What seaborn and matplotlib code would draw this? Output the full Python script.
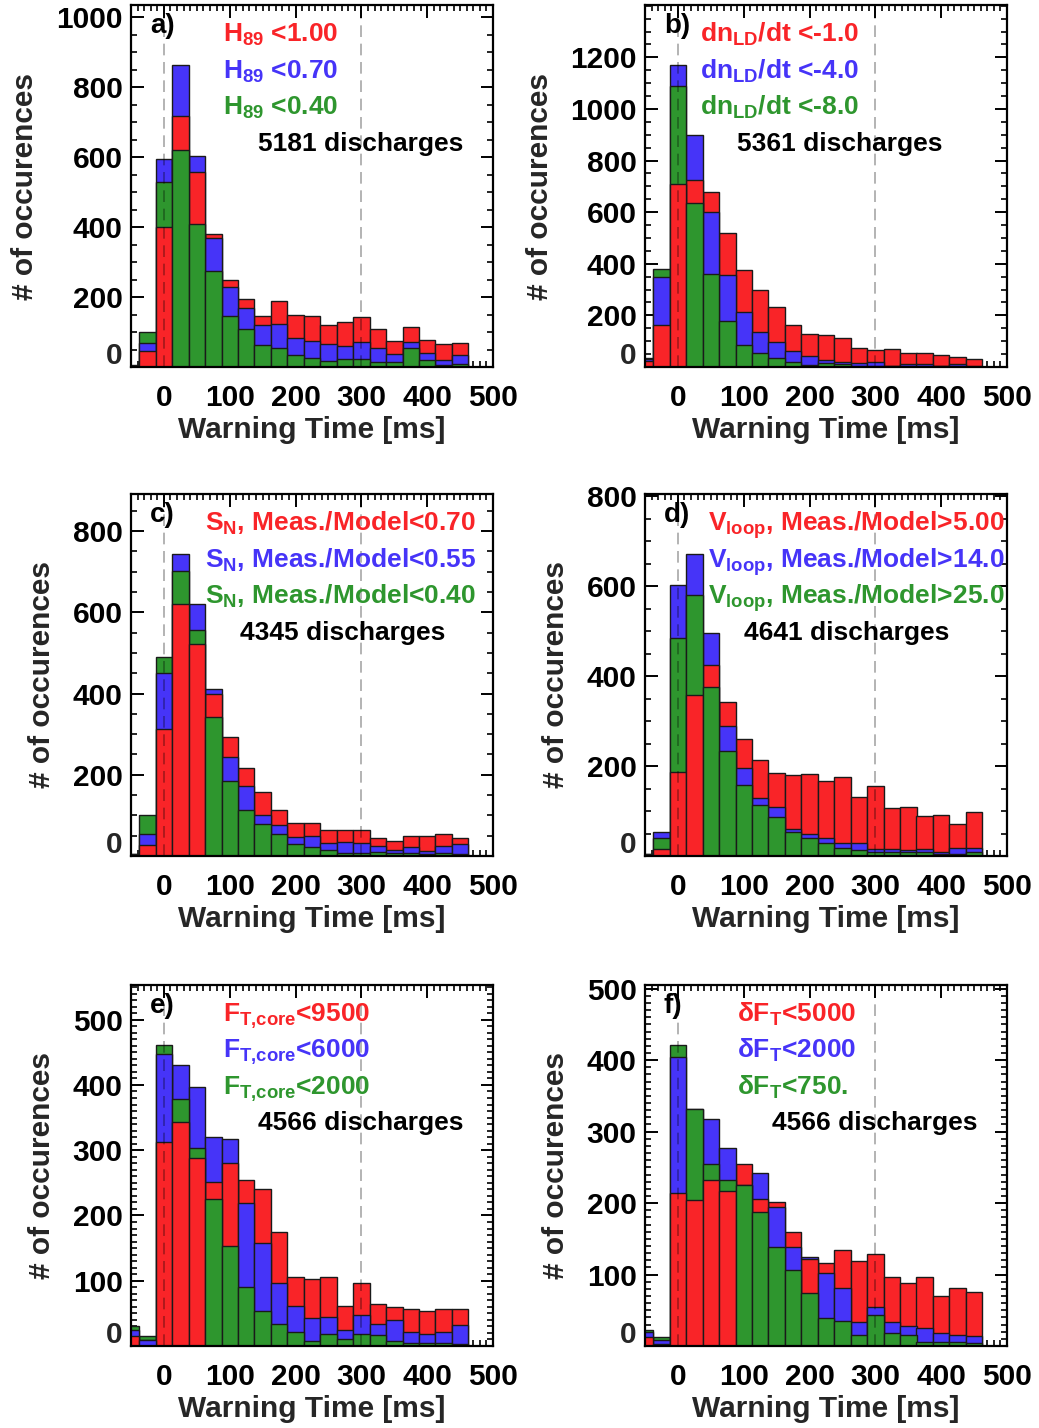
import numpy as np
import pandas as pd
import matplotlib
matplotlib.use("Agg")
import matplotlib.pyplot as plt
import seaborn as sns
from matplotlib.ticker import MultipleLocator, FixedLocator, FuncFormatter

sns.set_theme(style="ticks")
plt.rcParams['font.family'] = ['Liberation Sans', 'DejaVu Sans']
plt.rcParams['font.weight'] = 'bold'
plt.rcParams['mathtext.fontset'] = 'custom'
plt.rcParams['mathtext.rm'] = 'Liberation Sans:bold'
plt.rcParams['mathtext.it'] = 'Liberation Sans:bold'
plt.rcParams['mathtext.bf'] = 'Liberation Sans:bold'
plt.rcParams['mathtext.default'] = 'bf'

# ---------------- data ----------------
t_bins = [-50, -25, 0, 25, 50, 75, 100, 125, 150, 175, 200,
          225, 250, 275, 300, 325, 350, 375, 400, 425, 450]

red_a = [3, 47, 399, 716, 558, 380, 249, 194, 145, 188, 148, 147, 121, 130, 142, 108, 73, 114, 77, 65, 68]
blue_a = [4, 68, 593, 862, 604, 370, 228, 168, 121, 123, 84, 75, 67, 60, 71, 53, 37, 71, 39, 19, 33]
green_a = [5, 99, 529, 621, 410, 274, 146, 109, 63, 55, 33, 26, 17, 23, 22, 13, 15, 55, 20, 6, 9]

red_b = [22, 164, 710, 726, 680, 519, 376, 299, 233, 161, 128, 124, 114, 73, 65, 69, 56, 53, 48, 39, 32]
blue_b = [30, 347, 1169, 900, 600, 357, 213, 136, 96, 61, 42, 28, 19, 16, 19, 3, 10, 12, 4, 12, 3]
green_b = [33, 380, 1089, 635, 362, 177, 86, 55, 34, 20, 7, 15, 10, 5, 5, 2, 3, 3, 2, 2, 1]

red_c = [3, 26, 313, 621, 522, 400, 292, 216, 157, 114, 81, 81, 63, 63, 65, 44, 36, 49, 49, 54, 44]
blue_c = [4, 53, 451, 743, 621, 411, 245, 172, 100, 76, 46, 50, 31, 35, 33, 25, 16, 21, 13, 24, 30]
green_c = [5, 100, 489, 702, 556, 342, 184, 114, 80, 54, 29, 23, 15, 7, 7, 11, 7, 7, 5, 7, 5]

red_d = [3, 16, 186, 359, 425, 343, 261, 214, 185, 181, 182, 167, 176, 131, 155, 107, 109, 90, 91, 71, 97]
blue_d = [4, 53, 602, 671, 496, 290, 195, 129, 108, 59, 49, 39, 28, 28, 16, 16, 14, 16, 8, 17, 17]
green_d = [5, 39, 485, 581, 376, 233, 159, 113, 86, 53, 41, 28, 17, 13, 8, 8, 8, 8, 5, 5, 8]

red_e = [16, 9, 312, 343, 288, 252, 280, 254, 240, 175, 105, 103, 105, 62, 97, 65, 59, 57, 53, 57, 57]
blue_e = [25, 9, 447, 430, 397, 320, 317, 219, 158, 97, 61, 43, 44, 25, 48, 34, 40, 22, 19, 21, 32]
green_e = [31, 15, 461, 378, 304, 225, 153, 91, 53, 34, 22, 8, 19, 10, 19, 17, 8, 5, 5, 4, 3]

red_f = [12, 3, 214, 204, 232, 217, 254, 206, 201, 159, 122, 116, 135, 119, 129, 97, 88, 97, 70, 81, 75]
blue_f = [19, 9, 405, 331, 317, 277, 225, 242, 195, 139, 125, 102, 81, 33, 54, 34, 28, 25, 18, 15, 14]
green_f = [23, 13, 421, 331, 254, 232, 225, 187, 139, 106, 74, 39, 35, 15, 43, 18, 15, 5, 6, 6, 4]

panel_letters = ['a)', 'b)', 'c)', 'd)', 'e)', 'f)']
labels_a = ['$H_{89}$ <1.00', '$H_{89}$ <0.70', '$H_{89}$ <0.40']
labels_b = ['$dn_{LD}$/dt <-1.0', '$dn_{LD}$/dt <-4.0', '$dn_{LD}$/dt <-8.0']
labels_c = ['$S_{N}$, Meas./Model<0.70', '$S_{N}$, Meas./Model<0.55', '$S_{N}$, Meas./Model<0.40']
labels_d = ['$V_{loop}$, Meas./Model>5.00', '$V_{loop}$, Meas./Model>14.0', '$V_{loop}$, Meas./Model>25.0']
labels_e = ['$F_{T{,}core}$<9500', '$F_{T{,}core}$<6000', '$F_{T{,}core}$<2000']
labels_f = ['\u03b4$F_{T}$<5000', '\u03b4$F_{T}$<2000', '\u03b4$F_{T}$<750.']
discharges = ['5181 discharges', '5361 discharges', '4345 discharges',
              '4641 discharges', '4566 discharges', '4566 discharges']
y_ticks_max = [1000, 1200, 800, 800, 500, 500]

# ---------------- style ----------------
RED, BLUE, GREEN = '#F92428', '#4634F8', '#2E962E'
colors = [RED, BLUE, GREEN]
W, H = 1039, 1428
fig = plt.figure(figsize=(W / 100, H / 100), dpi=100)

def frac(left, top, right, bottom):
    return [left / W, 1 - bottom / H, (right - left) / W, (bottom - top) / H]

boxes = [frac(131, 5, 493, 367), frac(645, 5, 1007, 367),
         frac(131, 494, 493, 856), frac(645, 494, 1007, 856),
         frac(131, 985, 493, 1346), frac(645, 985, 1007, 1346)]

panels = [
    (red_a, blue_a, green_a, labels_a, 200, 50, 0.254, 0.351),
    (red_b, blue_b, green_b, labels_b, 200, 50, 0.152, 0.254),
    (red_c, blue_c, green_c, labels_c, 200, 50, 0.204, 0.301),
    (red_d, blue_d, green_d, labels_d, 200, 50, 0.174, 0.273),
    (red_e, blue_e, green_e, labels_e, 100, 10, 0.254, 0.351),
    (red_f, blue_f, green_f, labels_f, 100, 10, 0.254, 0.351),
]

edges = [float(e) for e in np.arange(-62.5, 475, 25)]
FS_TICK = 21.5
FS_TXT = 19

for i, (r, b, g, labs, ymaj, ymin, tx, dx) in enumerate(panels):
    ax = fig.add_axes(boxes[i])
    vals = np.array([r, b, g], dtype=float)       # (3, nbins)
    df = pd.DataFrame({
        't': np.tile(np.array(t_bins, dtype=float), 3),
        'v': vals.ravel(),
        's': np.repeat([0, 1, 2], len(t_bins)),
    })
    # rank inside each bin: tallest bar drawn first, shorter ones on top
    order = np.argsort(-vals, axis=0, kind='stable')
    rank = np.empty_like(order)
    for j in range(vals.shape[1]):
        rank[order[:, j], j] = np.arange(3)
    df['rank'] = rank.ravel()
    for lvl in range(3):
        for s in range(3):
            sub = df[(df['rank'] == lvl) & (df['s'] == s)].reset_index(drop=True)
            if len(sub) == 0:
                continue
            sns.histplot(data=sub, x='t', weights='v', bins=edges, color=colors[s],
                         alpha=1, edgecolor='#1a1a1a', linewidth=1.0, ax=ax)
    ymax = 1.2 * vals.max()
    ax.set_xlim(-50, 500)
    ax.set_ylim(0, ymax)
    for xv in (0, 300):
        ax.axvline(xv, color='black', alpha=0.35, lw=1.2, ls=(0, (7, 4)), zorder=5)

    ax.xaxis.set_major_locator(MultipleLocator(100))
    ax.xaxis.set_minor_locator(MultipleLocator(10))
    ax.yaxis.set_major_locator(FixedLocator(np.arange(0, y_ticks_max[i] + 1, ymaj)))
    ax.yaxis.set_minor_locator(MultipleLocator(ymin))
    ax.yaxis.set_major_formatter(FuncFormatter(lambda v, p: '' if v == 0 else f'{v:.0f}'))
    ax.tick_params(which='both', direction='in', top=True, right=True, colors='black')
    ax.tick_params(which='major', length=9, width=1.4, labelsize=FS_TICK)
    ax.tick_params(which='minor', length=4.5, width=1.2)
    ax.tick_params(axis='x', which='major', pad=12)
    ax.tick_params(axis='y', which='major', pad=6)
    for lab in ax.get_xticklabels() + ax.get_yticklabels():
        lab.set_fontweight('bold')
    ax.annotate('0', xy=(0, 0), xycoords=('axes fraction', 'data'), xytext=(-6, 8),
                textcoords='offset points', ha='right', va='center',
                fontsize=FS_TICK, fontweight='bold')
    for sp in ax.spines.values():
        sp.set_linewidth(1.6)
        sp.set_color('black')
        sp.set_zorder(6)

    ax.set_xlabel('Warning Time [ms]', fontsize=FS_TICK, fontweight='bold', labelpad=3)
    ax.set_ylabel('# of occurences', fontsize=FS_TICK, fontweight='bold', labelpad=12)

    ax.text(0.052, 0.922, panel_letters[i], transform=ax.transAxes, fontsize=FS_TXT + 1,
            fontweight='bold', ha='left', va='baseline', color='black')
    for k, yy in enumerate([0.899, 0.797, 0.697]):
        ax.text(tx, yy, labs[k], transform=ax.transAxes, fontsize=FS_TXT,
                fontweight='bold', color=colors[k], ha='left', va='baseline', zorder=7)
    ax.text(dx, 0.597, discharges[i], transform=ax.transAxes, fontsize=FS_TXT,
            fontweight='bold', color='black', ha='left', va='baseline', zorder=7)

fig.savefig('out.png', dpi=100)
